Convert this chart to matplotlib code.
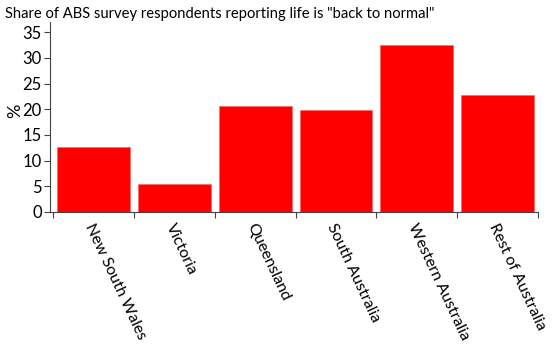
import matplotlib
matplotlib.use("Agg")
import matplotlib.pyplot as plt
import matplotlib.transforms as mtransforms

categories = ["New South Wales", "Victoria", "Queensland", "South Australia",
              "Western Australia", "Rest of Australia"]
values = [12.6, 5.4, 20.7, 19.9, 32.6, 22.8]
yticks = [0, 5, 10, 15, 20, 25, 30, 35]
title = 'Share of ABS survey respondents reporting life is "back to normal"'

plt.rcParams['font.family'] = ['Lato', 'DejaVu Sans']

fig = plt.figure(figsize=(5.52, 3.48), dpi=100)
ax = fig.add_axes([50/552, 1-212/348, (538-50)/552, (212-22)/348])

x = list(range(len(categories)))
ax.bar(x, values, width=0.9, color='#ff0000', edgecolor='#ff6666', linewidth=0.5)

ax.set_xlim(-0.54, 5.5)
ax.set_ylim(0, 37)
ax.set_yticks(yticks)
ax.set_yticklabels([str(t) for t in yticks], fontsize=12)
ax.tick_params(axis='y', length=4, width=0.8, color='#444444', pad=2)

# x ticks at category boundaries
ax.set_xticks([i - 0.5 for i in range(len(categories) + 1)])
ax.set_xticklabels([])
ax.tick_params(axis='x', length=4, width=0.8, color='#444444')
ax.set_xticks(x, minor=True)
ax.set_xticklabels(categories, minor=True, rotation=-65, ha='left', va='center',
                   rotation_mode='anchor', fontsize=11.5)
ax.tick_params(axis='x', which='minor', length=0, pad=9)
offset = mtransforms.ScaledTranslation(-5/100, 0, fig.dpi_scale_trans)
for lab in ax.get_xticklabels(minor=True):
    lab.set_transform(lab.get_transform() + offset)

for s in ['top', 'right']:
    ax.spines[s].set_visible(False)
for s in ['left', 'bottom']:
    ax.spines[s].set_color('#444444')
    ax.spines[s].set_linewidth(0.8)

ax.set_ylabel('%', fontsize=13, va='center')
ax.yaxis.set_label_coords(-0.072, 0.53)
fig.text(5/552, 1-14/348, title, fontsize=10.6, ha='left', va='center')

fig.savefig('out.png', dpi=100)
